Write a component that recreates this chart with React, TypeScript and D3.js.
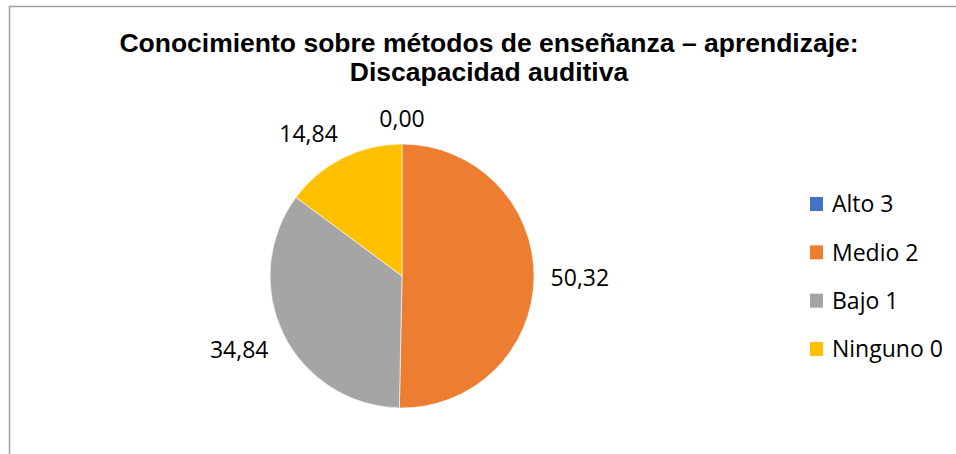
import React from "react";
import * as d3 from "d3";

const titleLines = ["Conocimiento sobre métodos de enseñanza – aprendizaje:", "Discapacidad auditiva"];
const categories = ["Alto 3", "Medio 2", "Bajo 1", "Ninguno 0"];
const values = [0.0, 50.32, 34.84, 14.84];
const colors = ["#4472C4", "#ED7D31", "#A5A5A5", "#FFC000"];

const W = 956;
const H = 454;
const cx = 402;
const cy = 276;
const R = 132;
const labelFont = 23;
const labelGap = 16;

export default function App() {
  const pie = d3.pie<number>().sort(null).value((d) => d);
  const arcs = pie(values);
  const arcGen = d3.arc<d3.PieArcDatum<number>>().innerRadius(0).outerRadius(R);
  const fmt = (v: number) => v.toFixed(2).replace(".", ",");
  const clamp = (v: number) => Math.max(-1, Math.min(1, v));

  const legendY = d3.scalePoint<string>().domain(categories).range([204, 349]);

  return (
    <svg width={W} height={H} style={{ position: "absolute", left: 0, top: 0 }} xmlns="http://www.w3.org/2000/svg">
      <rect x={0} y={0} width={W} height={H} fill="#fff" />
      <rect x={9.5} y={6.5} width={W + 20} height={H + 20} fill="#fff" stroke="#A0A0A0" strokeWidth={1.5} />
      {titleLines.map((t, i) => (
        <text key={i} x={489} y={52 + i * 29} textAnchor="middle" fontFamily="'Liberation Sans', Arial, sans-serif" fontWeight="bold" fontSize={26.5} fill="#000">
          {t}
        </text>
      ))}
      <g transform={`translate(${cx},${cy})`}>
        {arcs.map((a, i) => (
          <path key={i} d={arcGen(a) || ""} fill={colors[i]} stroke="#fff" strokeWidth={0.6} />
        ))}
        {arcs.map((a, i) => {
          const mid = (a.startAngle + a.endAngle) / 2;
          const s = Math.sin(mid);
          const c = -Math.cos(mid);
          const label = fmt(values[i]);
          const hw = label.length * 0.26 * labelFont;
          const hh = 0.42 * labelFont;
          const px = s * (R + labelGap) + hw * clamp(2 * s);
          const py = c * (R + labelGap) + hh * clamp(2 * c);
          return (
            <text key={"l" + i} x={px} y={py} dy="0.36em" textAnchor="middle" fontFamily="'Open Sans', sans-serif" fontSize={labelFont} fill="#000">
              {label}
            </text>
          );
        })}
      </g>
      {categories.map((cat, i) => (
        <g key={cat} transform={`translate(810,${legendY(cat)})`}>
          <rect x={0} y={-7} width={13} height={14} fill={colors[i]} />
          <text x={22} y={0} dy="0.36em" fontFamily="'Open Sans', sans-serif" fontSize={23} fill="#000">
            {cat}
          </text>
        </g>
      ))}
    </svg>
  );
}
